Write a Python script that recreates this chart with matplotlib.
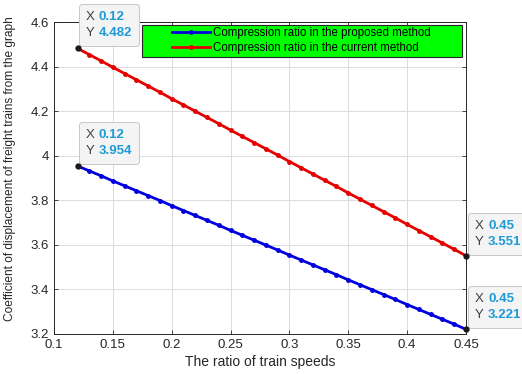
import matplotlib
matplotlib.use("Agg")
import matplotlib.pyplot as plt
from matplotlib.patches import Rectangle
from matplotlib.offsetbox import TextArea, HPacker, VPacker, AnnotationBbox

plt.rcParams['font.family'] = ['Liberation Sans', 'DejaVu Sans']

# rapports de vitesse
ratio = [0.12, 0.13, 0.14, 0.15, 0.16, 0.17, 0.18, 0.19, 0.20, 0.21, 0.22, 0.23,
         0.24, 0.25, 0.26, 0.27, 0.28, 0.29, 0.30, 0.31, 0.32, 0.33, 0.34, 0.35,
         0.36, 0.37, 0.38, 0.39, 0.40, 0.41, 0.42, 0.43, 0.44, 0.45]
# methode proposee (bleu)
proposed = [3.954, 3.932, 3.910, 3.887, 3.865, 3.843, 3.821, 3.799, 3.776, 3.754,
            3.732, 3.710, 3.688, 3.665, 3.643, 3.621, 3.599, 3.577, 3.554, 3.532,
            3.510, 3.488, 3.466, 3.443, 3.421, 3.399, 3.377, 3.355, 3.332, 3.310,
            3.288, 3.266, 3.244, 3.221]
# methode actuelle (rouge)
current = [4.482, 4.454, 4.426, 4.397, 4.369, 4.341, 4.313, 4.285, 4.256, 4.228,
           4.200, 4.172, 4.144, 4.115, 4.087, 4.059, 4.031, 4.003, 3.974, 3.946,
           3.918, 3.890, 3.862, 3.833, 3.805, 3.777, 3.749, 3.721, 3.692, 3.664,
           3.636, 3.608, 3.580, 3.551]

xticks = [0.1, 0.15, 0.2, 0.25, 0.3, 0.35, 0.4, 0.45]
xtick_labels = ['0.1', '0.15', '0.2', '0.25', '0.3', '0.35', '0.4', '0.45']
yticks = [3.2, 3.4, 3.6, 3.8, 4.0, 4.2, 4.4, 4.6]
ytick_labels = ['3.2', '3.4', '3.6', '3.8', '4', '4.2', '4.4', '4.6']

fig = plt.figure(figsize=(5.22, 3.74), dpi=100)
ax = fig.add_axes([0.1034, 0.107, 0.7893, 0.834])

ax.plot(ratio, proposed, color='#0000e0', lw=2, marker='o', ms=2.5,
        label='Compression ratio in the proposed method')
ax.plot(ratio, current, color='#e60000', lw=2, marker='o', ms=2.5,
        label='Compression ratio in the current method')

ax.set_xlim(0.1, 0.45)
ax.set_ylim(3.2, 4.6)
ax.set_xticks(xticks)
ax.set_xticklabels(xtick_labels)
ax.set_yticks(yticks)
ax.set_yticklabels(ytick_labels)
ax.tick_params(direction='in', top=True, right=True, labelsize=9.5,
               colors='#262626', length=3, width=0.6)
ax.grid(True, color='#dcdcdc', lw=0.7)
for s in ax.spines.values():
    s.set_color('#262626')
    s.set_linewidth(0.7)

ax.set_xlabel('The ratio of train speeds', fontsize=10, color='#262626', labelpad=3)
ax.set_ylabel('Coefficient of displacement of freight trains from the graph',
              fontsize=8.6, color='#262626')
ax.yaxis.set_label_coords(-0.092, 0.53)

# cadre vert de la legende
ax.add_patch(Rectangle((0.2136, 0.888), 0.7764, 0.102, transform=ax.transAxes,
                       fc='#00ff00', ec='#262626', lw=0.8, zorder=4))
leg = ax.legend(loc='upper left', fontsize=8.3, frameon=False,
                handlelength=3.3, handletextpad=0.3, borderpad=0, borderaxespad=0,
                labelspacing=0.25, bbox_to_anchor=(0.2864, 0.984))
leg.set_zorder(5)


def datatip(xv, yv, dx, dy):
    ax.plot([xv], [yv], 'o', color='#1a1a1a', ms=3.5, zorder=7, clip_on=False)
    rows = []
    for lab, val in (('X', '%g' % xv), ('Y', '%g' % yv)):
        rows.append(HPacker(children=[
            TextArea(lab, textprops=dict(color='#404040', fontsize=9.5)),
            TextArea(val, textprops=dict(color='#1e9ad6', fontsize=9.5, fontweight='bold'))],
            sep=3, pad=0))
    box = VPacker(children=rows, sep=3, pad=0, align='left')
    ab = AnnotationBbox(box, (xv, yv), xybox=(dx, dy), boxcoords='offset points',
                        box_alignment=(0, 0), pad=0.5, annotation_clip=False,
                        bboxprops=dict(fc='#f4f4f4', ec='#c8c8c8', lw=0.7,
                                       boxstyle='round,pad=0.5,rounding_size=0.2'))
    ab.set_zorder(6)
    ax.add_artist(ab)


datatip(ratio[0], current[0], 6, 6.5)
datatip(ratio[0], proposed[0], 6, 6.5)
datatip(ratio[-1], current[-1], 6.5, 5.8)
datatip(ratio[-1], proposed[-1], 6.5, 5.8)

fig.savefig('out.png', dpi=100)
